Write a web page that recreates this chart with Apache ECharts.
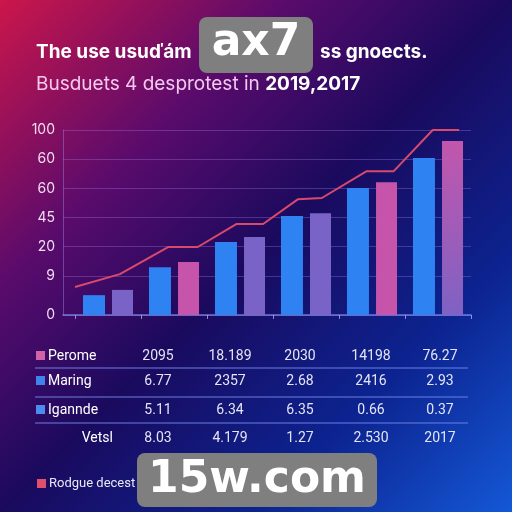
<!DOCTYPE html>
<html>
<head>
<meta charset="utf-8">
<script src="https://cdn.jsdelivr.net/npm/echarts@6/dist/echarts.min.js"></script>
<style>
  html, body { margin: 0; padding: 0; background: #140a5a; }
  #chart { width: 512px; height: 512px; }
</style>
</head>
<body>
<div id="chart"></div>
<script>
// chart data
var groups = ['A', 'B', 'C', 'D', 'E', 'F'];
var blueValues = [0.68, 1.64, 2.50, 3.39, 4.35, 5.38];
var secondValues = [0.86, 1.82, 2.67, 3.49, 4.55, 5.96];
var secondKinds = ['purple', 'pink', 'purple', 'purple', 'pink', 'mixed'];

var lineX = [0, 0.68, 1.41, 1.86, 2.45, 2.85, 3.38, 3.74, 4.42, 4.83, 5.42, 5.82];
var lineY = [0.96, 1.40, 2.33, 2.33, 3.12, 3.12, 3.97, 4.01, 4.93, 4.93, 6.34, 6.34];

var yTickValues = [0, 1.34, 2.34, 3.34, 4.34, 5.34, 6.34];
var yTickLabels = ['0', '9', '20', '45', '60', '60', '100'];

// table below the chart
var tableNames = ['Perome', 'Maring', 'Igannde', 'Vetsl'];
var rowPerome = ['2095', '18.189', '2030', '14198', '76.27'];
var rowMaring = ['6.77', '2357', '2.68', '2416', '2.93'];
var rowIgannde = ['5.11', '6.34', '6.35', '0.66', '0.37'];
var rowVetsl = ['8.03', '4.179', '1.27', '2.530', '2017'];
var footLabel = 'Rodgue decest';

var titleLeft = 'The use usuďám';
var titleRight = 'ss gnoects.';
var subText = 'Busduets 4 desprotest in ';
var subYears = '2019,2017';

var chart = echarts.init(document.getElementById('chart'));

var kindColor = {
  purple: '#7a63c6',
  pink: '#c654aa',
  mixed: new echarts.graphic.LinearGradient(0, 0, 0, 1, [
    { offset: 0, color: '#c256ac' },
    { offset: 1, color: '#7e62c4' }
  ])
};

var font = 'Roboto, "Liberation Sans", sans-serif';
var headFont = 'Inter, "Noto Sans", sans-serif';

function tableGraphics() {
  var rows = [rowPerome, rowMaring, rowIgannde, rowVetsl];
  var swatch = ['#d262a8', '#3f84ec', '#4a8cf0', null];
  var rowY = [356, 381, 410, 438];
  var colX = [158, 230, 300, 371, 440];
  var out = [];
  rows.forEach(function (row, i) {
    if (swatch[i]) {
      out.push({ type: 'rect', shape: { x: 36, y: rowY[i] - 5, width: 9, height: 9 },
        style: { fill: swatch[i] } });
      out.push({ type: 'text', x: 48, y: rowY[i],
        style: { text: tableNames[i], fill: '#ffffff', font: '14px ' + font, verticalAlign: 'middle' } });
    } else {
      out.push({ type: 'text', x: 113, y: rowY[i],
        style: { text: tableNames[i], fill: '#ffffff', font: '14px ' + font, align: 'right', verticalAlign: 'middle' } });
    }
    row.forEach(function (v, j) {
      out.push({ type: 'text', x: colX[j], y: rowY[i],
        style: { text: v, fill: '#e4e4f4', font: '14px ' + font, align: 'center', verticalAlign: 'middle' } });
    });
  });
  [368, 397, 423].forEach(function (y) {
    out.push({ type: 'line', shape: { x1: 35, y1: y, x2: 468, y2: y },
      style: { stroke: 'rgba(110,130,230,0.65)', lineWidth: 1.5 } });
  });
  out.push({ type: 'rect', shape: { x: 37, y: 479, width: 9, height: 9 }, style: { fill: '#e0506c' } });
  out.push({ type: 'text', x: 49, y: 484,
    style: { text: footLabel, fill: '#e8e8f8', font: '13px ' + font, verticalAlign: 'middle' } });
  return out;
}

var graphics = [
  { type: 'text', x: 36, y: 52, z: 10,
    style: { text: titleLeft, fill: '#ffffff', font: 'bold 19px ' + headFont, verticalAlign: 'middle' } },
  { type: 'text', x: 320, y: 52, z: 10,
    style: { text: titleRight, fill: '#ffffff', font: 'bold 19px ' + headFont, verticalAlign: 'middle' } },
  { type: 'text', x: 36, y: 84, z: 10,
    style: {
      text: '{a|' + subText + '}{b|' + subYears + '}',
      verticalAlign: 'middle',
      rich: {
        a: { fill: '#f6c8f0', font: '19px ' + headFont },
        b: { fill: '#ffffff', font: 'bold 19px ' + headFont }
      }
    } }
].concat(tableGraphics()).concat([
  // watermark boxes seen on the picture
  { type: 'rect', z: 20, shape: { x: 199, y: 17, width: 114, height: 56, r: 8 }, style: { fill: '#7f7f7f' } },
  { type: 'text', z: 21, x: 256, y: 44,
    style: { text: 'ax7', fill: '#ffffff', font: 'bold 44px "DejaVu Sans", sans-serif', align: 'center', verticalAlign: 'middle' } },
  { type: 'rect', z: 20, shape: { x: 137, y: 453, width: 240, height: 54, r: 8 }, style: { fill: '#7f7f7f' } },
  { type: 'text', z: 21, x: 257, y: 481,
    style: { text: '15w.com', fill: '#ffffff', font: 'bold 44px "DejaVu Sans", sans-serif', align: 'center', verticalAlign: 'middle' } }
]);

var option = {
  animation: false,
  backgroundColor: new echarts.graphic.LinearGradient(0, 0, 1, 1, [
    { offset: 0, color: '#cc164a' },
    { offset: 0.28, color: '#5a0b6c' },
    { offset: 0.5, color: '#1a0a5e' },
    { offset: 0.75, color: '#0c2390' },
    { offset: 1, color: '#1458d6' }
  ]),
  grid: [
    { left: 63, right: 41, top: 130, bottom: 197 },
    { left: 75, right: 41, top: 130, bottom: 197 }
  ],
  xAxis: [
    { gridIndex: 0, type: 'value', min: 0, max: 1,
      axisLine: { show: true, onZero: false, lineStyle: { color: 'rgba(130,140,235,0.8)', width: 1.5 } },
      axisTick: { show: false }, axisLabel: { show: false }, splitLine: { show: false } },
    { gridIndex: 1, type: 'category', data: groups,
      axisLine: { show: false },
      axisTick: { show: true, length: 4, lineStyle: { color: 'rgba(170,170,240,0.8)' } },
      axisLabel: { show: false } },
    { gridIndex: 1, type: 'value', min: 0, max: 6, show: false }
  ],
  yAxis: [
    { gridIndex: 0, type: 'value', min: 0, max: 6.34,
      axisLine: { show: true, lineStyle: { color: 'rgba(150,120,220,0.5)' } },
      axisTick: { show: false, customValues: yTickValues },
      axisLabel: { customValues: yTickValues, color: '#f2dcf2', fontSize: 14, margin: 8,
        fontFamily: headFont,
        formatter: function (v) {
          var best = 0;
          yTickValues.forEach(function (t, i) { if (Math.abs(t - v) < Math.abs(yTickValues[best] - v)) best = i; });
          return yTickLabels[best];
        } },
      splitLine: { show: true, lineStyle: { color: 'rgba(160,120,225,0.35)' } } },
    { gridIndex: 1, type: 'value', min: 0, max: 6.34, show: false, splitLine: { show: false } }
  ],
  series: [
    { type: 'bar', xAxisIndex: 1, yAxisIndex: 1, data: blueValues,
      barWidth: 22, barGap: '32%', itemStyle: { color: '#2e82f2' } },
    { type: 'bar', xAxisIndex: 1, yAxisIndex: 1, barWidth: 21,
      data: secondValues.map(function (v, i) { return { value: v, itemStyle: { color: kindColor[secondKinds[i]] } }; }) },
    { type: 'line', xAxisIndex: 2, yAxisIndex: 1, symbol: 'none',
      data: lineX.map(function (x, i) { return [x, lineY[i]]; }),
      lineStyle: { color: '#d84a6c', width: 2 } }
  ],
  graphic: graphics
};

chart.setOption(option);
</script>
</body>
</html>
